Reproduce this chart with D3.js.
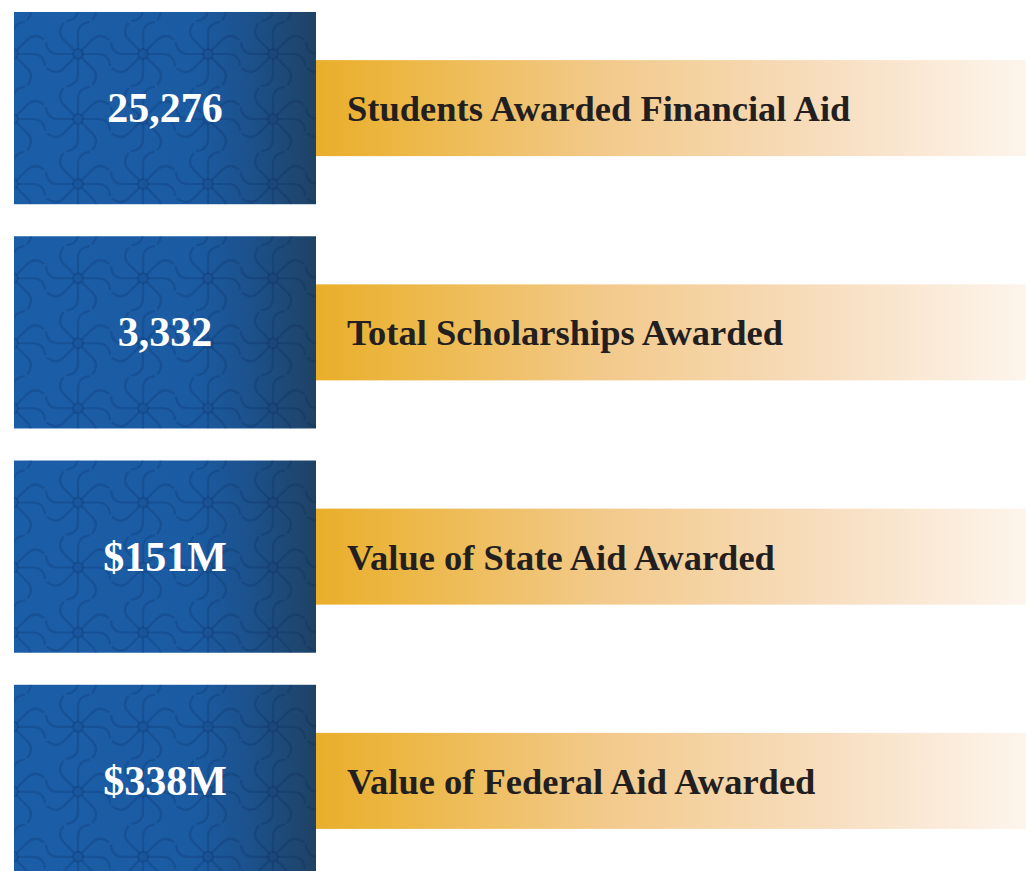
<!DOCTYPE html>
<html>
<head>
<meta charset="utf-8">
<script src="https://cdn.jsdelivr.net/npm/d3@7"></script>
<style>
  html, body { margin: 0; padding: 0; background: #ffffff; }
  svg { display: block; }
</style>
</head>
<body>
<div id="chart"></div>
<script>
// ─── Data ────────────────────────────────────────────────────────────────────
const statValues = ['25,276', '3,332', '$151M', '$338M'];
const statLabels = [
    'Students Awarded Financial Aid',
    'Total Scholarships Awarded',
    'Value of State Aid Awarded',
    'Value of Federal Aid Awarded'
];

const W = 1026, H = 871;
const BOX_X = 14, BOX_W = 302;
const BAR_H = 96;

const svg = d3.select('#chart').append('svg')
    .attr('width', W)
    .attr('height', H);

const defs = svg.append('defs');

// blue tile gradient (darkens toward the right edge)
const blueGrad = defs.append('linearGradient')
    .attr('id', 'blueGrad')
    .attr('x1', '0%').attr('x2', '100%').attr('y1', '0%').attr('y2', '0%');
[[0, '#1b5ea8'], [0.6, '#1b5ba2'], [0.8, '#1c5089'], [1, '#1f4264']].forEach(([o, c]) =>
    blueGrad.append('stop').attr('offset', o).attr('stop-color', c));

// gold bar gradient (fades out to the right)
const goldGrad = defs.append('linearGradient')
    .attr('id', 'goldGrad')
    .attr('x1', '0%').attr('x2', '100%').attr('y1', '0%').attr('y2', '0%');
[[0, '#e9ae2a'], [0.12, '#ecb744'], [0.4, '#f2c98a'], [0.75, '#f8e0c4'], [1, '#fdf5ec']].forEach(([o, c]) =>
    goldGrad.append('stop').attr('offset', o).attr('stop-color', c));

// row positions
const y = d3.scaleBand()
    .domain(statLabels)
    .range([12, 877])
    .paddingInner(32 / 224)
    .paddingOuter(0);

const BOX_H = y.bandwidth();

// ─── Pinwheel motif ──────────────────────────────────────────────────────────
// one arm pointing up, hooking clockwise at the tip
const ARM = 'M0,-6 L0,-20 C0,-27 4,-31 11,-32';
const MOTIF_STEP = 65;

function drawMotif(g, cx, cy) {
    const m = g.append('g').attr('transform', `translate(${cx},${cy})`);
    d3.range(8).forEach(i => {
        m.append('path')
            .attr('d', ARM)
            .attr('transform', `rotate(${i * 45})`)
            .attr('fill', 'none')
            .attr('stroke', 'rgba(8, 30, 75, 0.18)')
            .attr('stroke-width', 2.2)
            .attr('stroke-linecap', 'round');
    });
    m.append('circle')
        .attr('r', 5)
        .attr('fill', 'rgba(8, 30, 75, 0.1)')
        .attr('stroke', 'rgba(8, 30, 75, 0.18)')
        .attr('stroke-width', 2);
}

// ─── Rows ────────────────────────────────────────────────────────────────────
statLabels.forEach((label, i) => {
    const top = y(label);
    const row = svg.append('g').attr('class', 'row');

    // gold bar
    row.append('rect')
        .attr('x', BOX_X + BOX_W)
        .attr('y', top + (BOX_H - BAR_H) / 2)
        .attr('width', W - (BOX_X + BOX_W))
        .attr('height', BAR_H)
        .attr('fill', 'url(#goldGrad)');

    // blue box
    const clipId = `clip${i}`;
    defs.append('clipPath').attr('id', clipId)
        .append('rect')
        .attr('x', BOX_X).attr('y', top)
        .attr('width', BOX_W).attr('height', BOX_H);

    row.append('rect')
        .attr('x', BOX_X)
        .attr('y', top)
        .attr('width', BOX_W)
        .attr('height', BOX_H)
        .attr('fill', 'url(#blueGrad)');

    const pattern = row.append('g').attr('clip-path', `url(#${clipId})`);
    d3.range(-1, 6).forEach(cxI => {
        d3.range(-1, 4).forEach(cyI => {
            drawMotif(pattern, BOX_X - 1 + cxI * MOTIF_STEP, top + 42 + cyI * MOTIF_STEP);
        });
    });

    // value
    row.append('text')
        .attr('x', BOX_X + BOX_W / 2)
        .attr('y', top + BOX_H / 2 + 14)
        .attr('text-anchor', 'middle')
        .style('font-family', '"Liberation Serif", serif')
        .style('font-weight', 'bold')
        .style('font-size', '42px')
        .style('fill', '#ffffff')
        .text(statValues[i]);

    // label
    row.append('text')
        .attr('x', 347)
        .attr('y', top + BOX_H / 2 + 13)
        .style('font-family', '"Liberation Serif", serif')
        .style('font-weight', 'bold')
        .style('font-size', '36.5px')
        .style('fill', '#231f20')
        .text(label);
});
</script>
</body>
</html>
